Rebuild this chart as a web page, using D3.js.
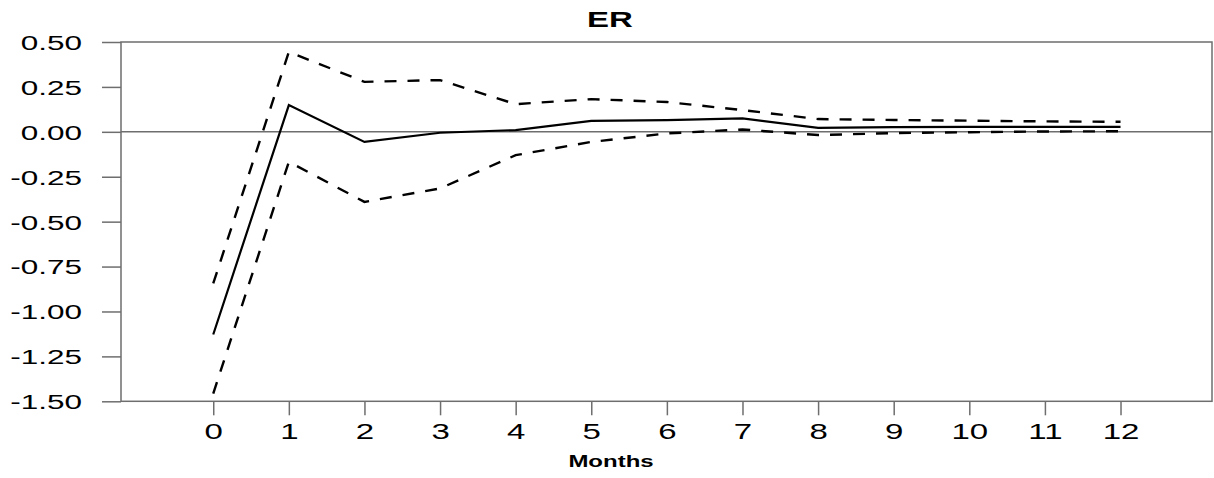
<!DOCTYPE html>
<html>
<head>
<meta charset="utf-8">
<script src="https://cdn.jsdelivr.net/npm/d3@7"></script>
<style>
  html, body { margin: 0; padding: 0; background: #fff; }
  svg { display: block; }
  text { font-family: "Liberation Sans", Arial, Helvetica, sans-serif; fill: #000; }
</style>
</head>
<body>
<svg id="chart" width="1214" height="478"></svg>
<script>
const months = [0, 1, 2, 3, 4, 5, 6, 7, 8, 9, 10, 11, 12];
const response = [-1.128, 0.149, -0.056, -0.005, 0.010, 0.061, 0.065, 0.075, 0.022, 0.026, 0.027, 0.028, 0.028];
const upperBand = [-0.844, 0.445, 0.278, 0.288, 0.154, 0.182, 0.166, 0.121, 0.071, 0.066, 0.062, 0.058, 0.056];
const lowerBand = [-1.457, -0.167, -0.390, -0.315, -0.130, -0.056, -0.009, 0.013, -0.018, -0.007, -0.002, 0.002, 0.003];
const yTicks = [0.50, 0.25, 0.00, -0.25, -0.50, -0.75, -1.00, -1.25, -1.50];
const titleText = "ER";
const xLabel = "Months";

const svg = d3.select("#chart");
const pLeft = 121, pRight = 1212, pTop = 42, pBottom = 401.3;
const SX = 1.5;

const x = d3.scaleLinear().domain([-1.22, 13.21]).range([pLeft, pRight]);
const y = d3.scaleLinear().domain([-1.5, 0.5]).range([pBottom, pTop]);

const gray = "#6e6e6e";

// frame
svg.append("rect")
  .attr("x", pLeft).attr("y", pTop)
  .attr("width", pRight - pLeft).attr("height", pBottom - pTop)
  .attr("fill", "none").attr("stroke", gray).attr("stroke-width", 1.5);

// zero line
svg.append("line")
  .attr("x1", pLeft).attr("x2", pRight)
  .attr("y1", y(0)).attr("y2", y(0))
  .attr("stroke", gray).attr("stroke-width", 1.5);

// y axis
const yAxis = svg.append("g")
  .attr("transform", `translate(${pLeft},0)`)
  .call(d3.axisLeft(y).tickValues(yTicks).tickSize(19).tickSizeOuter(0)
    .tickFormat(d => d3.format(".2f")(d).replace("\u2212", "-")));
yAxis.select(".domain").remove();
yAxis.selectAll(".tick line").attr("stroke", gray).attr("stroke-width", 1.5);
yAxis.selectAll(".tick text")
  .attr("x", -26).attr("dy", "0.35em")
  .attr("transform", `scale(${SX},1)`)
  .style("font-size", "21px").attr("fill", "#000");

// x axis
const xAxis = svg.append("g")
  .attr("transform", `translate(0,${pBottom})`)
  .call(d3.axisBottom(x).tickValues(months).tickSize(14).tickPadding(8).tickSizeOuter(0));
xAxis.select(".domain").remove();
xAxis.selectAll(".tick line").attr("stroke", gray).attr("stroke-width", 1.5);
xAxis.selectAll(".tick text")
  .attr("transform", `scale(${SX},1)`)
  .style("font-size", "22px").attr("fill", "#000");

// lines
const line = d3.line().x((d, i) => x(months[i])).y(d => y(d));
svg.append("path").datum(upperBand).attr("d", line)
  .attr("fill", "none").attr("stroke", "#000").attr("stroke-width", 2.4)
  .attr("stroke-dasharray", "12,11");
svg.append("path").datum(lowerBand).attr("d", line)
  .attr("fill", "none").attr("stroke", "#000").attr("stroke-width", 2.4)
  .attr("stroke-dasharray", "12,11");
svg.append("path").datum(response).attr("d", line)
  .attr("fill", "none").attr("stroke", "#000").attr("stroke-width", 2.2);

// title
svg.append("text")
  .attr("transform", `translate(610,26.5) scale(${SX},1)`)
  .attr("text-anchor", "middle")
  .style("font-size", "22px").style("font-weight", "bold")
  .text(titleText);

// x label
svg.append("text")
  .attr("transform", `translate(611,466.5) scale(${SX},1)`)
  .attr("text-anchor", "middle")
  .style("font-size", "16px").style("font-weight", "bold")
  .text(xLabel);
</script>
</body>
</html>
